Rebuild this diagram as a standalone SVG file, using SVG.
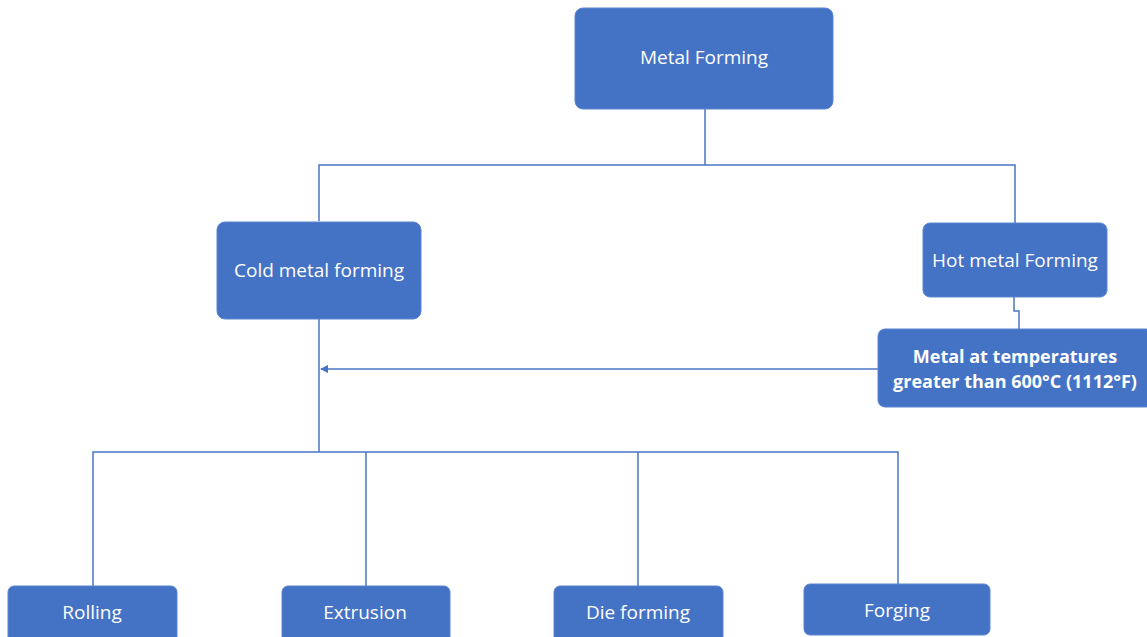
<svg xmlns="http://www.w3.org/2000/svg" width="1147" height="637" viewBox="0 0 1147 637">
<style>
.box{fill:#4472C4;stroke:#5a85d0;stroke-width:1}
.t{fill:#ffffff;font-family:"Open Sans","Liberation Sans",sans-serif;font-size:19px;text-anchor:middle;dominant-baseline:central}
.b{font-weight:bold;font-size:18px}
.c{fill:none;stroke:#4A76C6;stroke-width:1.5}
</style>
<defs>
<marker id="arr" viewBox="0 0 10 10" refX="9" refY="5" markerWidth="8" markerHeight="8" markerUnits="userSpaceOnUse" orient="auto">
<path d="M0,0 L10,5 L0,10 z" fill="#4472C4"/>
</marker>
</defs>
<rect width="1147" height="637" fill="#ffffff"/>
<g id="connectors">
<path class="c" d="M705,109 V165 M319,221 V165 H1015 V223"/>
<path class="c" d="M1014,297 V311 H1019 V329"/>
<path class="c" d="M878,369 H321" marker-end="url(#arr)"/>
<path class="c" d="M319,319 V452 M93,586 V452 H898 V584 M366,452 V586 M638,452 V586"/>
</g>
<g id="metal-forming"><rect class="box" x="575" y="8" width="258" height="101" rx="8"/><text class="t" x="704" y="57">Metal Forming</text></g>
<g id="cold"><rect class="box" x="217" y="222" width="204" height="97" rx="8"/><text class="t" x="319" y="270">Cold metal forming</text></g>
<g id="hot"><rect class="box" x="923" y="223" width="184" height="74" rx="7"/><text class="t" x="1015" y="260">Hot metal Forming</text></g>
<g id="temp"><rect class="box" x="878" y="329" width="275" height="78" rx="7"/><text class="t b" x="1015" y="356">Metal at temperatures</text><text class="t b" x="1015" y="381">greater than 600°C (1112°F)</text></g>
<g id="rolling"><rect class="box" x="8" y="586" width="169" height="60" rx="6"/><text class="t" x="92" y="612">Rolling</text></g>
<g id="extrusion"><rect class="box" x="282" y="586" width="168" height="60" rx="6"/><text class="t" x="365" y="612">Extrusion</text></g>
<g id="die"><rect class="box" x="554" y="586" width="169" height="60" rx="6"/><text class="t" x="638" y="612">Die forming</text></g>
<g id="forging"><rect class="box" x="804" y="584" width="186" height="51" rx="6"/><text class="t" x="897" y="610">Forging</text></g>
</svg>
